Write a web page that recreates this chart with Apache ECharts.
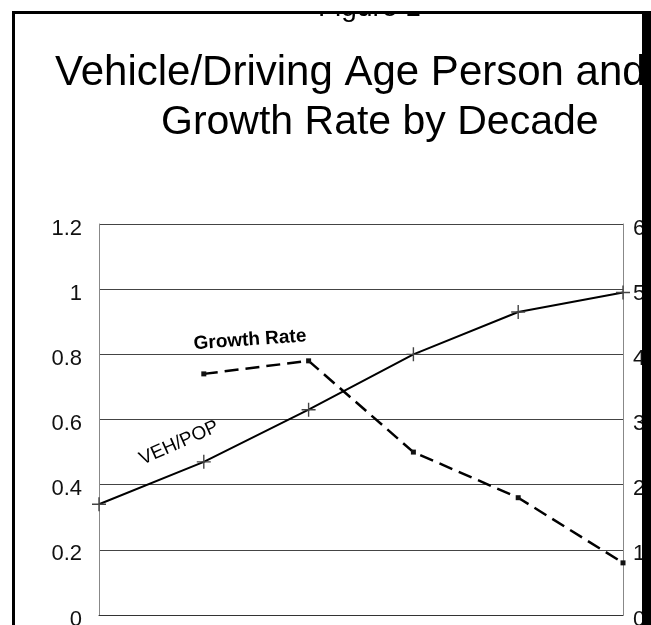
<!DOCTYPE html>
<html>
<head>
<meta charset="utf-8">
<script src="https://cdn.jsdelivr.net/npm/echarts@6/dist/echarts.min.js"></script>
<style>
html,body{margin:0;padding:0;background:#fff;}
#chart{width:651px;height:625px;}
</style>
</head>
<body>
<div id="chart"></div>
<script>
// ---- data ----
const categories = ['1940', '1950', '1960', '1970', '1980', '1990'];
const vehPop = [0.34, 0.47, 0.63, 0.80, 0.93, 0.99];
const growthRate = [null, 3.7, 3.9, 2.5, 1.8, 0.8];
const leftTicks = ['0', '0.2', '0.4', '0.6', '0.8', '1', '1.2'];
const rightTicks = ['0', '1', '2', '3', '4', '5', '6'];
const titleLine1 = 'Vehicle/Driving Age Person and';
const titleLine2 = 'Growth Rate by Decade';
const figureLabel = 'Figure 1';
const seriesNames = ['VEH/POP', 'Growth Rate'];

const FONT = '"Liberation Sans", Arial, Helvetica, sans-serif';
const plusPath = 'path://M6.3,0 h1.4 v6.3 h6.3 v1.4 h-6.3 v6.3 h-1.4 v-6.3 h-6.3 v-1.4 h6.3 z';

const chart = echarts.init(document.getElementById('chart'), null, {renderer: 'canvas'});
chart.setOption({
  animation: false,
  backgroundColor: '#ffffff',
  grid: {left: 99, right: 28, top: 224, bottom: 10, containLabel: false, outerBoundsMode: 'none'},
  xAxis: {
    type: 'category',
    data: categories,
    boundaryGap: false,
    axisLine: {show: true, lineStyle: {color: '#333', width: 1}},
    axisTick: {show: false},
    axisLabel: {show: false},
    splitLine: {show: false}
  },
  yAxis: [
    {
      type: 'value', min: 0, max: 1.2, interval: 0.2, position: 'left',
      axisLine: {show: true, lineStyle: {color: '#888', width: 1}},
      axisTick: {show: false},
      axisLabel: {
        margin: 17, fontSize: 22, color: '#111', fontFamily: FONT,
        verticalAlign: 'top', lineHeight: 9,
        formatter: (v) => leftTicks[Math.round(v / 0.2)]
      },
      splitLine: {show: true, lineStyle: {color: '#444', width: 1}}
    },
    {
      type: 'value', min: 0, max: 6, interval: 1, position: 'right',
      axisLine: {show: true, lineStyle: {color: '#888', width: 1}},
      axisTick: {show: false},
      axisLabel: {
        margin: 10, fontSize: 22, color: '#111', fontFamily: FONT,
        verticalAlign: 'top', lineHeight: 9,
        formatter: (v) => rightTicks[Math.round(v)]
      },
      splitLine: {show: false}
    }
  ],
  series: [
    {
      name: seriesNames[0], type: 'line', yAxisIndex: 0, data: vehPop,
      symbol: plusPath, symbolSize: 14,
      itemStyle: {color: '#444'},
      lineStyle: {color: '#000', width: 2},
      emphasis: {disabled: true}, z: 3
    },
    {
      name: seriesNames[1], type: 'line', yAxisIndex: 1, data: growthRate,
      symbol: 'rect', symbolSize: 5,
      itemStyle: {color: '#111'},
      lineStyle: {color: '#000', width: 2.5, type: [14, 7]},
      emphasis: {disabled: true}, z: 4
    }
  ],
  graphic: [
    {type: 'text', x: 318, y: 8, z: 10,
     style: {text: figureLabel, font: '28px ' + FONT, fill: '#000', align: 'left', verticalAlign: 'middle'}},
    {type: 'rect', shape: {x: 0, y: 0, width: 651, height: 11}, z: 20, style: {fill: '#fff'}},
    {type: 'text', x: 55, y: 73, z: 10,
     style: {text: titleLine1, font: '42px ' + FONT, fill: '#000', align: 'left', verticalAlign: 'middle'}},
    {type: 'text', x: 161, y: 123, z: 10,
     style: {text: titleLine2, font: '41px ' + FONT, fill: '#000', align: 'left', verticalAlign: 'middle'}},
    {type: 'text', x: 250, y: 340, z: 10, rotation: 4 * Math.PI / 180,
     style: {text: seriesNames[1], font: 'bold 19px ' + FONT, fill: '#000', align: 'center', verticalAlign: 'middle'}},
    {type: 'text', x: 179, y: 443, z: 10, rotation: 24 * Math.PI / 180,
     style: {text: seriesNames[0], font: '19px ' + FONT, fill: '#000', align: 'center', verticalAlign: 'middle'}},
    {type: 'rect', shape: {x: 12, y: 11, width: 633, height: 3}, z: 30, style: {fill: '#000'}},
    {type: 'rect', shape: {x: 12, y: 11, width: 3, height: 614}, z: 30, style: {fill: '#000'}},
    {type: 'rect', shape: {x: 642, y: 11, width: 9, height: 614}, z: 30, style: {fill: '#000'}}
  ]
});
</script>
</body>
</html>
